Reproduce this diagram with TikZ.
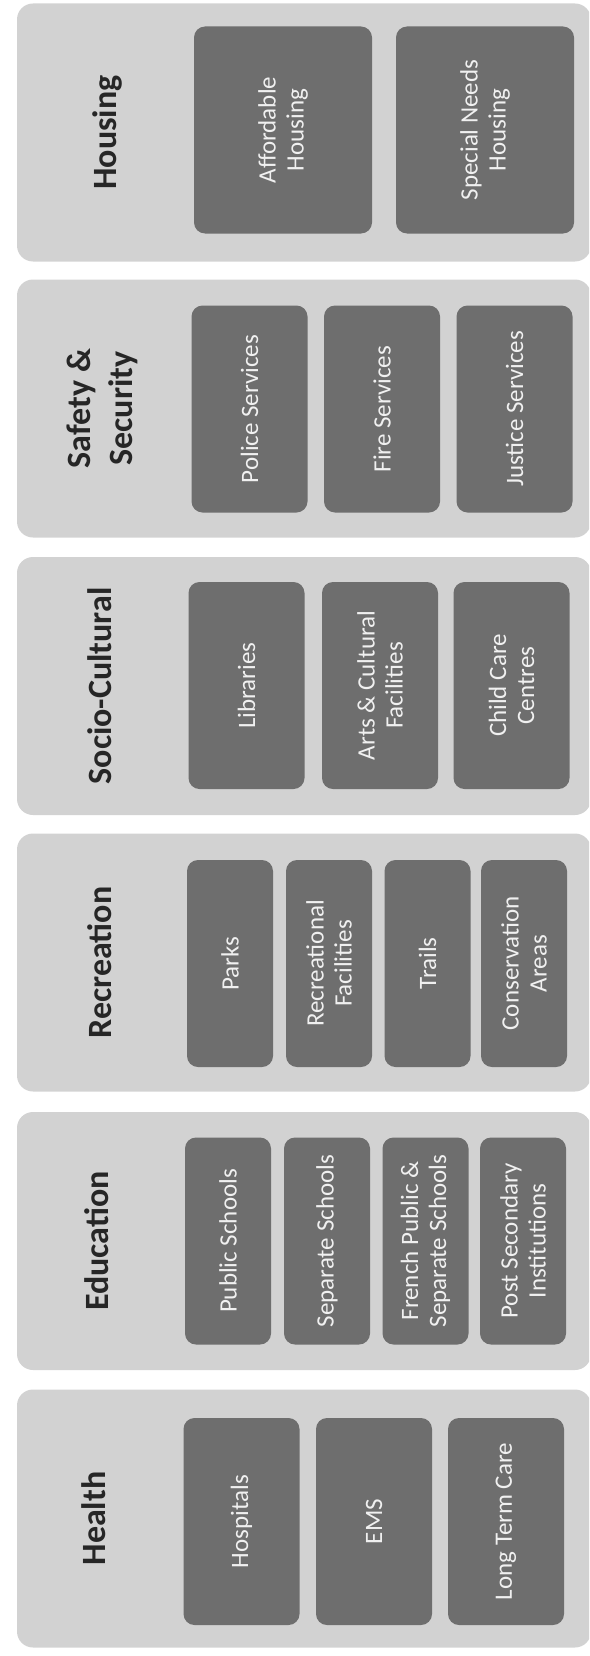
\documentclass[tikz,border=0pt]{standalone}
\usepackage{fontspec}
\setmainfont{Carlito}
\usepackage{tikz}
\usetikzlibrary{positioning}
\definecolor{bandgray}{HTML}{D2D2D2}
\definecolor{itemgray}{HTML}{6E6E6E}

\begin{document}
\begin{tikzpicture}[x=1pt,y=-1pt,
  band/.style={rectangle,rounded corners=16pt,fill=bandgray,draw=none,
               minimum width=574pt,minimum height=258pt,inner sep=0pt},
  ttl/.style={rotate=90,align=center,font=\fontsize{34}{42}\selectfont\bfseries,
              text=black!85},
  item/.style={rectangle,rounded corners=11pt,fill=itemgray,draw=none,
               rotate=90,minimum width=207pt,inner sep=0pt,align=center,
               text=white!94!black,font=\fontsize{25}{28}\selectfont},
  wide/.style={item,minimum height=178pt},
  mid/.style={item,minimum height=116pt},
  slim/.style={item,minimum height=86pt}]
\clip (0,0) rectangle (589,1656);
%% ── Housing ─────────────────────────────────────────────────────────────
\node[band](housing) at (304,132.5) {};
\node[ttl](housingT) at (107,132.5) {Housing};
\node[wide](afford) at (283,130) {Affordable\\Housing};
\node[wide](special) at (485,130) {Special Needs\\Housing};
%% ── Safety & Security ───────────────────────────────────────────────────
\node[band](safety) at (304,408.5) {};
\node[ttl](safetyT) at (102,408.5) {Safety \&\\Security};
\node[mid](police) at (249.5,409) {Police Services};
\node[mid](fire) at (382,409) {Fire Services};
\node[mid](justice) at (514.5,409) {Justice Services};
%% ── Socio-Cultural ──────────────────────────────────────────────────────
\node[band](socio) at (304,686) {};
\node[ttl](socioT) at (100,686) {Socio-Cultural};
\node[mid](libraries) at (246.5,685.5) {Libraries};
\node[mid](arts) at (380,685.5) {Arts \& Cultural\\Facilities};
\node[mid](childcare) at (511.5,685.5) {Child Care\\Centres};
%% ── Recreation ──────────────────────────────────────────────────────────
\node[band](recreation) at (304,962.5) {};
\node[ttl](recreationT) at (100,962.5) {Recreation};
\node[slim](parks) at (230,963.5) {Parks};
\node[slim](recfac) at (329,963.5) {Recreational\\Facilities};
\node[slim](trails) at (427.5,963.5) {Trails};
\node[slim](conserv) at (524,963.5) {Conservation\\Areas};
%% ── Education ───────────────────────────────────────────────────────────
\node[band](education) at (304,1241) {};
\node[ttl](educationT) at (97,1241) {Education};
\node[slim](public) at (228,1241) {Public Schools};
\node[slim](separate) at (327,1241) {Separate Schools};
\node[slim](french) at (425.5,1241) {French Public \&\\Separate Schools};
\node[slim](postsec) at (523,1241) {Post Secondary\\Institutions};
%% ── Health ──────────────────────────────────────────────────────────────
\node[band](health) at (304,1518.5) {};
\node[ttl](healthT) at (94,1518.5) {Health};
\node[mid](hospitals) at (241.5,1521.5) {Hospitals};
\node[mid](ems) at (374,1521.5) {EMS};
\node[mid](longterm) at (506,1521.5) {Long Term Care};
\end{tikzpicture}
\end{document}
